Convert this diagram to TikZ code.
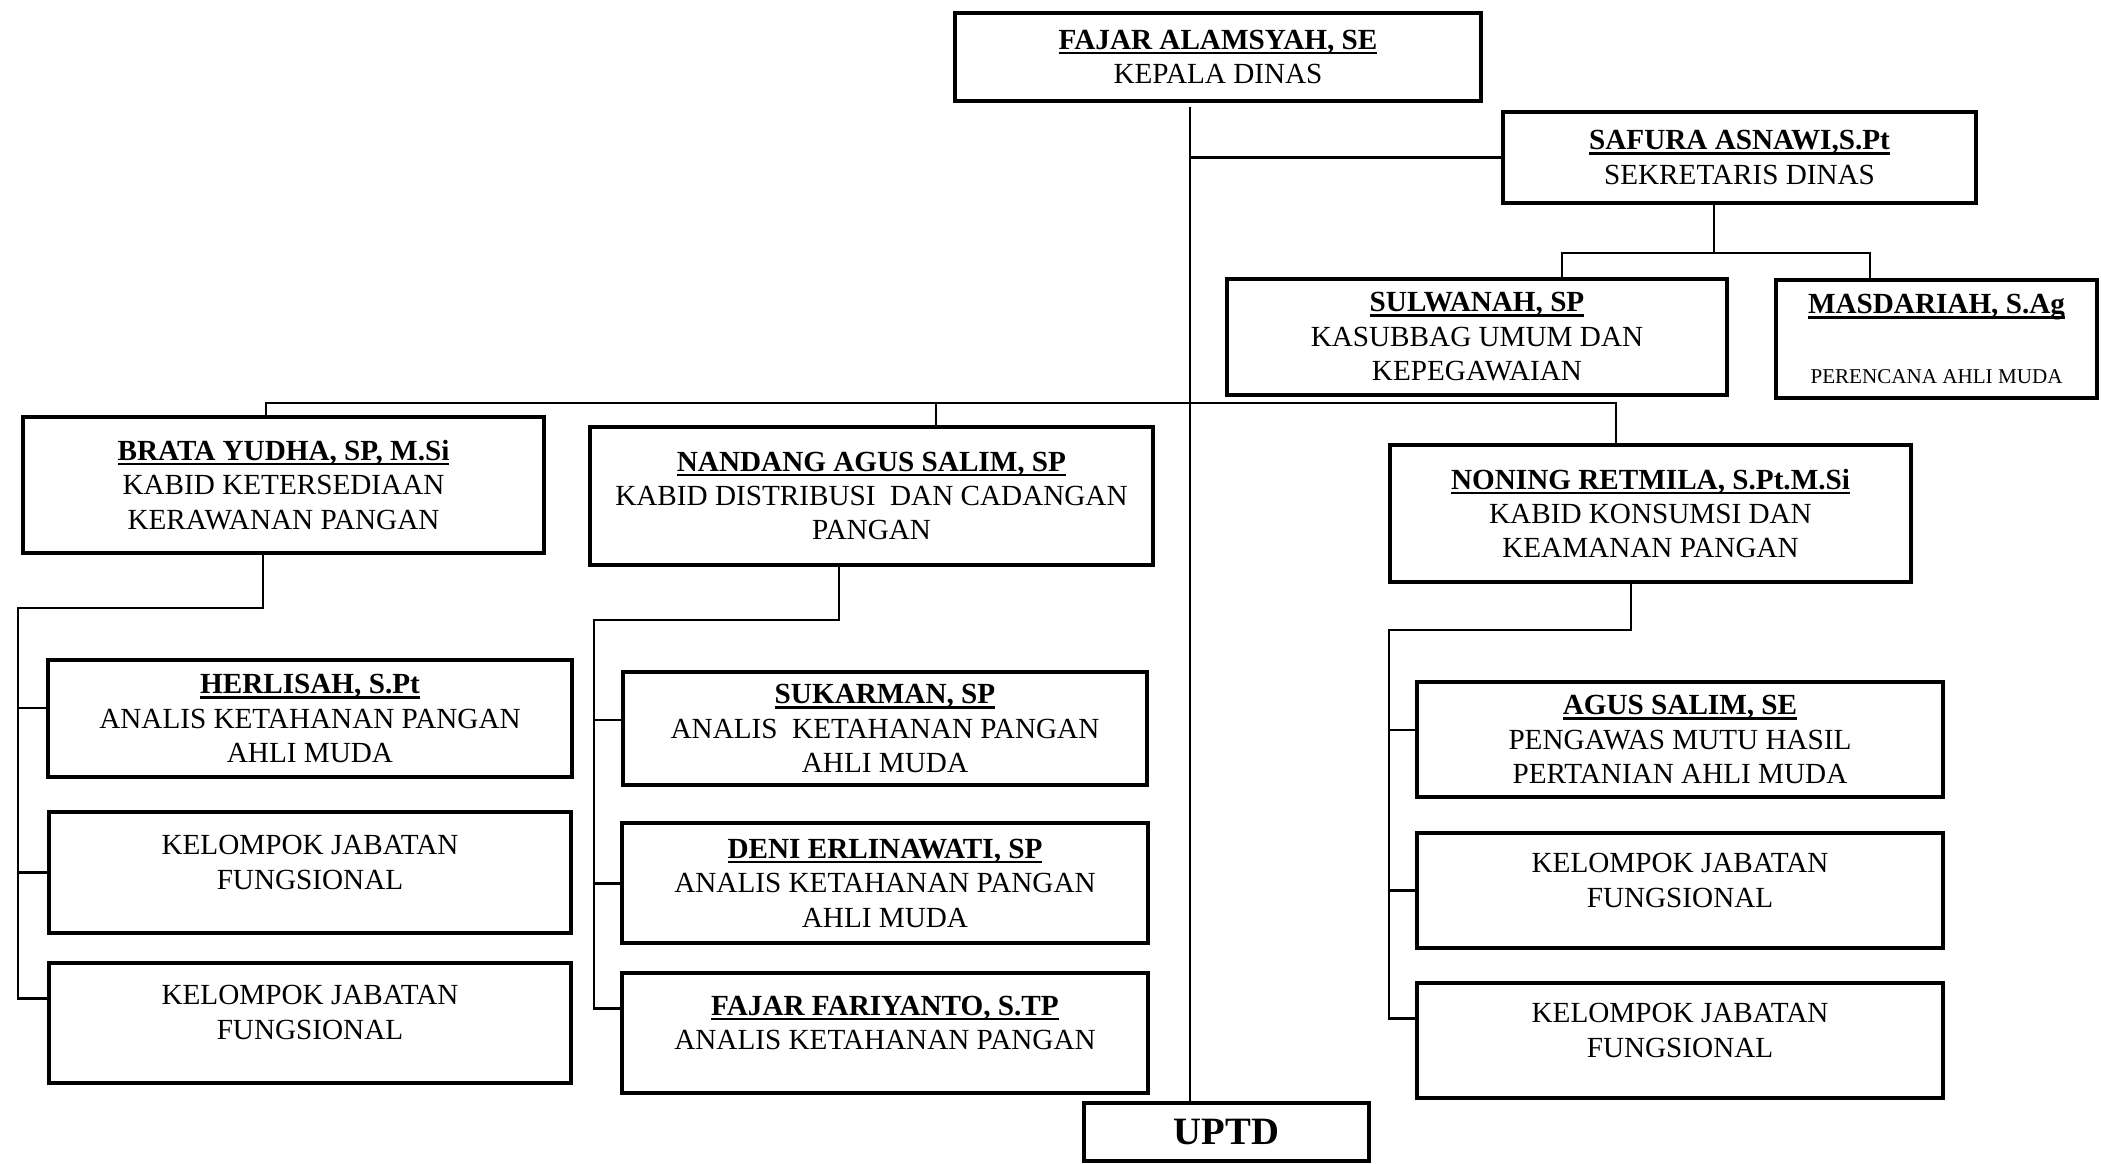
\documentclass[tikz,border=0pt]{standalone}
\usepackage{fontspec}
\setmainfont{Liberation Serif}
\usepackage{tikz}

\newcommand{\pname}[1]{\setbox0\hbox{\bfseries #1}\rlap{\rule[-1.4pt]{\wd0}{0.7pt}}\box0}

\begin{document}
\begin{tikzpicture}[
  x=0.01cm, y=-0.01cm,
  jabatan/.style={rectangle, draw, line width=1.2pt, align=center, inner sep=1pt, font=\fontsize{8.3}{9.8}\selectfont},
  line width=0.8pt,
  node distance=1.5cm
]
\useasboundingbox (0,0) rectangle (2101,1163);

% pimpinan
\node[jabatan, minimum width=5.26cm, minimum height=0.88cm] (kadis) at (1218,57) {\pname{FAJAR ALAMSYAH, SE}\\KEPALA DINAS};
\node[jabatan, minimum width=4.73cm, minimum height=0.91cm] (sekdis) at (1739.5,157.5) {\pname{SAFURA ASNAWI,S.Pt}\\SEKRETARIS DINAS};
\node[jabatan, minimum width=5.00cm, minimum height=1.16cm] (sulwanah) at (1477,337) {\pname{SULWANAH, SP}\\KASUBBAG UMUM DAN\\KEPEGAWAIAN};
\node[jabatan, minimum width=3.21cm, minimum height=1.18cm] (masdariah) at (1936.5,339) {\pname{MASDARIAH, S.Ag}\\[10pt]{\fontsize{6}{7}\selectfont PERENCANA AHLI MUDA}};

% kabid
\node[jabatan, minimum width=5.21cm, minimum height=1.36cm] (brata) at (283.5,485) {\pname{BRATA YUDHA, SP, M.Si}\\KABID KETERSEDIAAN\\KERAWANAN PANGAN};
\node[jabatan, minimum width=5.63cm, minimum height=1.38cm] (nandang) at (871.5,496) {\pname{NANDANG AGUS SALIM, SP}\\KABID DISTRIBUSI\ \ DAN CADANGAN\\PANGAN};
\node[jabatan, minimum width=5.21cm, minimum height=1.37cm] (noning) at (1650.5,513.5) {\pname{NONING RETMILA, S.Pt.M.Si}\\KABID KONSUMSI DAN\\KEAMANAN PANGAN};

% bidang ketersediaan
\node[jabatan, minimum width=5.23cm, minimum height=1.17cm] (herlisah) at (310,718.5) {\pname{HERLISAH, S.Pt}\\ANALIS KETAHANAN PANGAN\\AHLI MUDA};
\node[jabatan, minimum width=5.22cm, minimum height=1.21cm, below of=herlisah, node distance=1.54cm] (kjfA1) {KELOMPOK JABATAN\\FUNGSIONAL\\[-4pt]\mbox{}};
\node[jabatan, minimum width=5.22cm, minimum height=1.20cm, below of=kjfA1] (kjfA2) {KELOMPOK JABATAN\\FUNGSIONAL\\[-4pt]\mbox{}};

% bidang distribusi
\node[jabatan, minimum width=5.24cm, minimum height=1.13cm] (sukarman) at (885,728.5) {\pname{SUKARMAN, SP}\\ANALIS\ \ KETAHANAN PANGAN\\AHLI MUDA};
\node[jabatan, minimum width=5.26cm, minimum height=1.20cm, below of=sukarman, node distance=1.545cm] (deni) {\pname{DENI ERLINAWATI, SP}\\ANALIS KETAHANAN PANGAN\\AHLI MUDA};
\node[jabatan, minimum width=5.26cm, minimum height=1.20cm, below of=deni] (fajarf) {\pname{FAJAR FARIYANTO, S.TP}\\ANALIS KETAHANAN PANGAN\\[-4pt]\mbox{}};

% bidang konsumsi
\node[jabatan, minimum width=5.26cm, minimum height=1.15cm] (agus) at (1680,739.5) {\pname{AGUS SALIM, SE}\\PENGAWAS MUTU HASIL\\PERTANIAN AHLI MUDA};
\node[jabatan, minimum width=5.26cm, minimum height=1.15cm, below of=agus, node distance=1.51cm] (kjfC1) {KELOMPOK JABATAN\\FUNGSIONAL\\[-4pt]\mbox{}};
\node[jabatan, minimum width=5.26cm, minimum height=1.15cm, below of=kjfC1] (kjfC2) {KELOMPOK JABATAN\\FUNGSIONAL\\[-4pt]\mbox{}};

\node[jabatan, minimum width=2.85cm, minimum height=0.58cm, font=\fontsize{11}{13}\selectfont\bfseries] (uptd) at (1226.5,1132) {UPTD};

% garis komando
\coordinate (trunktop) at (1190,107);
\coordinate (sbus) at (1714,253);
\coordinate (kbus) at (1190,403);
\draw (trunktop) -- (trunktop |- uptd.north);
\draw (trunktop |- sekdis.west) -- (sekdis.west);
\draw (sekdis.south -| sbus) -- (sbus);
\draw ([xshift=0.85cm]sulwanah.north) |- (sbus) -| ([xshift=-0.665cm]masdariah.north);
\draw ([xshift=-0.175cm]brata.north) |- ([xshift=-0.345cm]noning.north |- kbus) -- ([xshift=-0.345cm]noning.north);
\draw ([xshift=0.645cm]nandang.north) -- ([xshift=0.645cm]nandang.north |- kbus);

\coordinate (railA) at (18,608);
\draw ([xshift=-0.205cm]brata.south) |- (railA) |- ([yshift=0.24cm]kjfA2.west);
\draw ([yshift=0.105cm]herlisah.west) -- ([yshift=0.105cm]herlisah.west -| railA);
\draw (kjfA1.west) -- (kjfA1.west -| railA);

\coordinate (railB) at (594,620);
\draw ([xshift=-0.325cm]nandang.south) |- (railB) |- ([yshift=0.25cm]fajarf.west);
\draw ([yshift=0.085cm]sukarman.west) -- ([yshift=0.085cm]sukarman.west -| railB);
\draw (deni.west) -- (deni.west -| railB);

\coordinate (railC) at (1389,630);
\draw ([xshift=-0.195cm]noning.south) |- (railC) |- ([yshift=0.225cm]kjfC2.west);
\draw ([yshift=0.095cm]agus.west) -- ([yshift=0.095cm]agus.west -| railC);
\draw (kjfC1.west) -- (kjfC1.west -| railC);
\end{tikzpicture}
\end{document}
